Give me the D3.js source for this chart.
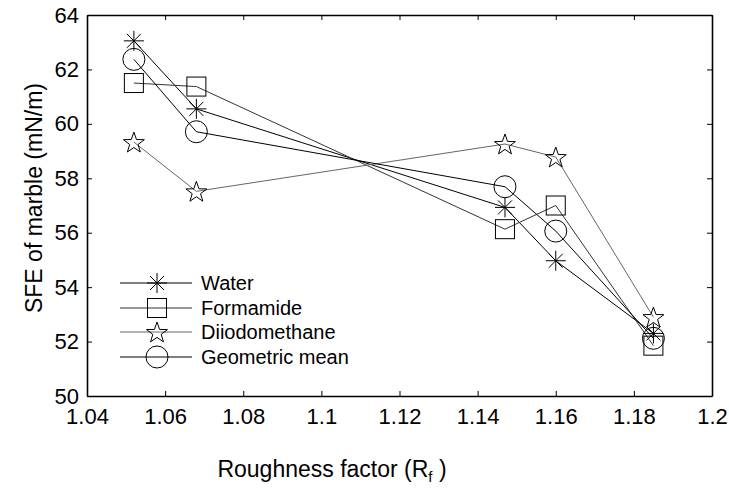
<!DOCTYPE html>
<html>
<head>
<meta charset="utf-8">
<script src="https://cdn.jsdelivr.net/npm/d3@7"></script>
<style>
  html, body { margin: 0; padding: 0; background: #fff; }
  text { font-family: "Liberation Sans", Arial, sans-serif; fill: #000; }
</style>
</head>
<body>
<svg id="chart" width="729" height="490"></svg>
<script>
// ---- data ----
const roughness = [1.052, 1.068, 1.147, 1.16, 1.185];
const water = [63.05, 60.55, 56.93, 54.97, 52.3];
const formamide = [61.5, 61.37, 56.13, 57.0, 51.85];
const diiodomethane = [59.33, 57.52, 59.26, 58.78, 52.9];
const geometricMean = [62.37, 59.71, 57.69, 56.06, 52.12];
const seriesNames = ["Water", "Formamide", "Diiodomethane", "Geometric mean"];
const xTicks = [1.04, 1.06, 1.08, 1.1, 1.12, 1.14, 1.16, 1.18, 1.2];
const xTickLabels = ["1.04", "1.06", "1.08", "1.1", "1.12", "1.14", "1.16", "1.18", "1.2"];
const yTicks = [50, 52, 54, 56, 58, 60, 62, 64];
const yTickLabels = ["50", "52", "54", "56", "58", "60", "62", "64"];

const series = [
  { name: seriesNames[0], values: water, marker: "asterisk", color: "#000" },
  { name: seriesNames[1], values: formamide, marker: "square", color: "#333" },
  { name: seriesNames[2], values: diiodomethane, marker: "star", color: "#666" },
  { name: seriesNames[3], values: geometricMean, marker: "circle", color: "#000" }
];

// ---- layout ----
const svg = d3.select("#chart");
const L = 87, R = 712, T = 15, B = 396;
const x = d3.scaleLinear().domain([1.04, 1.2]).range([L, R]);
const y = d3.scaleLinear().domain([50, 64]).range([B, T]);

const axStyle = g => {
  g.select(".domain").attr("stroke", "#000").attr("stroke-width", 1.6);
  g.selectAll(".tick line").attr("stroke", "#000").attr("stroke-width", 1);
};
svg.append("g").attr("transform", `translate(0,${B})`)
  .call(d3.axisBottom(x).tickValues(xTicks).tickSizeInner(-5).tickSizeOuter(0).tickPadding(15)
    .tickFormat((d, i) => xTickLabels[i]))
  .call(axStyle)
  .call(g => g.selectAll(".tick text").attr("font-size", 22).attr("font-family", "Liberation Sans, Arial, sans-serif").attr("fill", "#000").attr("dy", "0.6em"));
svg.append("g").attr("transform", `translate(0,${T})`)
  .call(d3.axisTop(x).tickValues(xTicks).tickSizeInner(-5).tickSizeOuter(0).tickFormat(""))
  .call(axStyle);
svg.append("g").attr("transform", `translate(${L},0)`)
  .call(d3.axisLeft(y).tickValues(yTicks).tickSizeInner(-5).tickSizeOuter(0).tickPadding(8)
    .tickFormat((d, i) => yTickLabels[i]))
  .call(axStyle)
  .call(g => g.selectAll(".tick text").attr("font-size", 22).attr("font-family", "Liberation Sans, Arial, sans-serif").attr("fill", "#000"));
svg.append("g").attr("transform", `translate(${R},0)`)
  .call(d3.axisRight(y).tickValues(yTicks).tickSizeInner(-5).tickSizeOuter(0).tickFormat(""))
  .call(axStyle);

// ---- markers ----
function drawMarker(g, type) {
  const s = g.append("g").attr("fill", "none").attr("stroke", "#000").attr("stroke-width", 1);
  if (type === "asterisk") {
    const r = 10, d = 7;
    s.append("path").attr("d", `M${-r},0H${r}M0,${-r}V${r}M${-d},${-d}L${d},${d}M${-d},${d}L${d},${-d}`);
  } else if (type === "square") {
    s.append("rect").attr("x", -9.5).attr("y", -9.5).attr("width", 19).attr("height", 19);
  } else if (type === "circle") {
    s.append("circle").attr("r", 11);
  } else if (type === "star") {
    const pts = [];
    const ro = 11, ri = 4.4;
    for (let k = 0; k < 10; k++) {
      const a = -Math.PI / 2 + k * Math.PI / 5;
      const rr = k % 2 === 0 ? ro : ri;
      pts.push([rr * Math.cos(a), rr * Math.sin(a) + 1]);
    }
    s.append("path").attr("d", "M" + pts.map(p => p.join(",")).join("L") + "Z");
  }
}

const line = d3.line().x((d, i) => x(roughness[i])).y(d => y(d));
series.forEach(s => {
  svg.append("path").datum(s.values).attr("d", line)
    .attr("fill", "none").attr("stroke", s.color).attr("stroke-width", 1);
});
series.forEach(s => {
  s.values.forEach((v, i) => {
    const g = svg.append("g").attr("transform", `translate(${x(roughness[i])},${y(v)})`);
    drawMarker(g, s.marker);
  });
});

// ---- legend ----
const legY = [283, 308, 332, 357];
series.forEach((s, i) => {
  const g = svg.append("g").attr("transform", `translate(0,${legY[i]})`);
  g.append("line").attr("x1", 120).attr("x2", 192).attr("y1", 0).attr("y2", 0)
    .attr("stroke", s.color).attr("stroke-width", 1);
  const m = g.append("g").attr("transform", "translate(157,0)");
  drawMarker(m, s.marker);
  g.append("text").attr("x", 201).attr("y", 0).attr("dy", "0.35em")
    .attr("font-size", 20).text(s.name);
});

// ---- axis titles ----
const xt = svg.append("text").attr("x", 332).attr("y", 477).attr("text-anchor", "middle").attr("font-size", 23);
xt.append("tspan").text("Roughness factor (R");
xt.append("tspan").attr("font-size", 15).attr("dy", 5).text("f");
xt.append("tspan").attr("dy", -5).text(" )");

svg.append("text").attr("transform", "translate(42,198) rotate(-90)")
  .attr("text-anchor", "middle").attr("font-size", 23).text("SFE of marble (mN/m)");
</script>
</body>
</html>
